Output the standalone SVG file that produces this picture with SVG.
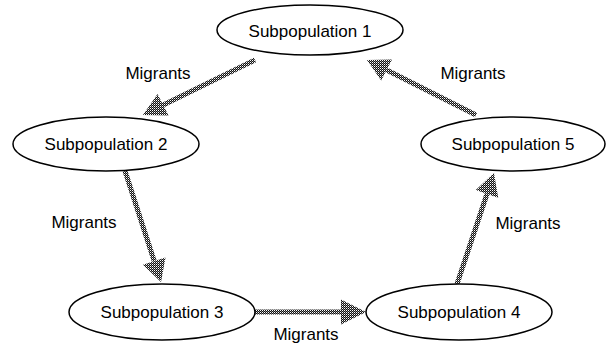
<svg xmlns="http://www.w3.org/2000/svg" width="607" height="345" viewBox="0 0 607 345">
<defs>
<pattern id="dither" width="2" height="2" patternUnits="userSpaceOnUse">
<rect width="2" height="2" fill="#111"/>
<rect width="1" height="1" fill="#fff"/>
<rect x="1" y="1" width="1" height="1" fill="#888"/>
</pattern>
<style>
.node ellipse{fill:#fff;stroke:#000;stroke-width:1.5}
text{font-family:"Liberation Sans",Arial,sans-serif;font-size:17px;fill:#000;text-anchor:middle}
.shaft{stroke:url(#dither);stroke-width:5;fill:none}
.head{fill:url(#dither);stroke:none}
</style>
</defs>
<rect width="607" height="345" fill="#fff"/>
<g id="connectors">
<line class="shaft" x1="255" y1="60" x2="162.7" y2="105.3"/>
<polygon class="head" points="143,115 168.5,115.5 157.5,94"/>
<line class="shaft" x1="476" y1="115" x2="386.6" y2="69.9"/>
<polygon class="head" points="367,60 381.2,80.5 392,59.5"/>
<line class="shaft" x1="125" y1="171" x2="154.2" y2="261.1"/>
<polygon class="head" points="161,282 165.5,257.5 143,264.8"/>
<line class="shaft" x1="254" y1="312" x2="342" y2="312"/>
<polygon class="head" points="366,312 341,299.5 341,324.5"/>
<line class="shaft" x1="457" y1="284" x2="487" y2="193.9"/>
<polygon class="head" points="494,173 498.2,197.7 475.8,190.1"/>
</g>
<g id="labels">
<text x="158" y="79">Migrants</text>
<text x="473" y="79">Migrants</text>
<text x="84" y="228">Migrants</text>
<text x="528" y="229">Migrants</text>
<text x="306" y="340">Migrants</text>
</g>
<g id="node1" class="node"><ellipse cx="310" cy="30" rx="93" ry="25"/><text x="310" y="37">Subpopulation 1</text></g>
<g id="node2" class="node"><ellipse cx="106" cy="144" rx="93" ry="27"/><text x="106" y="150">Subpopulation 2</text></g>
<g id="node3" class="node"><ellipse cx="162" cy="312" rx="93" ry="28"/><text x="162" y="318">Subpopulation 3</text></g>
<g id="node4" class="node"><ellipse cx="459" cy="312" rx="93" ry="28"/><text x="459" y="318">Subpopulation 4</text></g>
<g id="node5" class="node"><ellipse cx="513" cy="144" rx="92" ry="27"/><text x="513" y="150">Subpopulation 5</text></g>
</svg>
